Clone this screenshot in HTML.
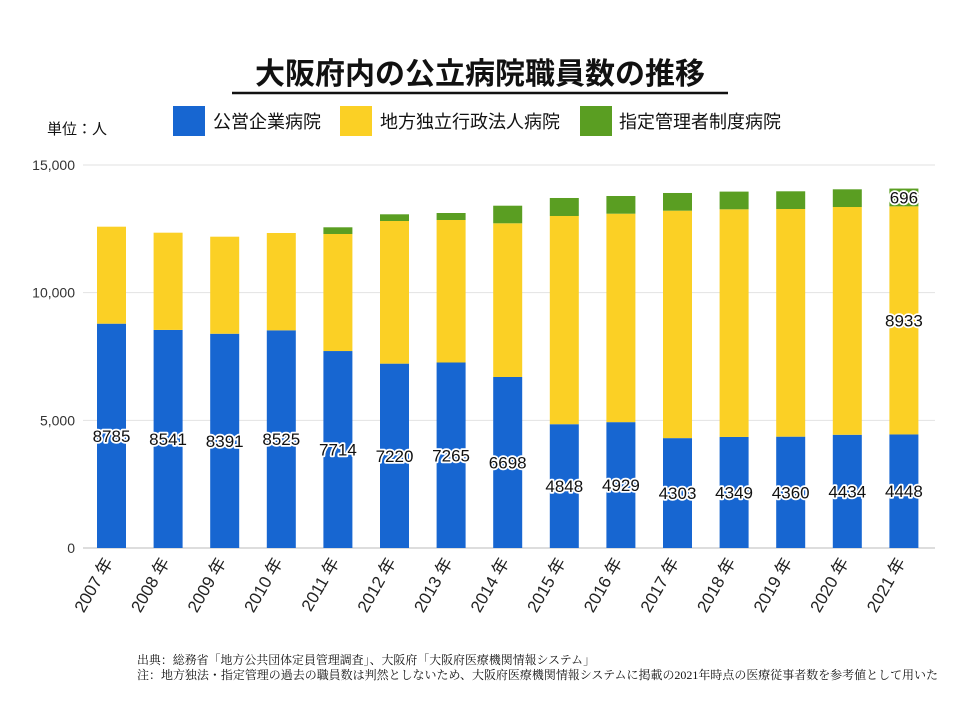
<!DOCTYPE html>
<html><head><meta charset="utf-8"><style>
html,body{margin:0;padding:0;background:#fff;}
svg{display:block;font-family:"Liberation Sans","Noto Sans CJK JP",sans-serif;}
</style></head><body>
<svg width="960" height="720" viewBox="0 0 960 720" id="chart">
<text x="480" y="84" text-anchor="middle" font-size="30" font-weight="bold" fill="#111">大阪府内の公立病院職員数の推移</text>
<line x1="232" y1="93" x2="728" y2="93" stroke="#111" stroke-width="2.5"/>
<text x="47" y="134" font-size="15" fill="#111">単位：人</text>
<g>
<rect x="173" y="106" width="32" height="30" fill="#1766d1"/>
<text x="213" y="128" font-size="18" fill="#111">公営企業病院</text>
<rect x="340" y="106" width="32" height="30" fill="#fbd025"/>
<text x="380" y="128" font-size="18" fill="#111">地方独立行政法人病院</text>
<rect x="580" y="106" width="32" height="30" fill="#5a9e22"/>
<text x="619" y="128" font-size="18" fill="#111">指定管理者制度病院</text>
</g>
<g id="grid"></g><g id="bars"></g><g id="labels"></g>
<text x="137" y="664" font-size="12" fill="#111" textLength="458" lengthAdjust="spacingAndGlyphs" font-family="'Liberation Serif','Noto Serif CJK SC',serif">出典：総務省「地方公共団体定員管理調査」、大阪府「大阪府医療機関情報システム」</text>
<text x="137" y="679" font-size="12" fill="#111" textLength="801" lengthAdjust="spacingAndGlyphs" font-family="'Liberation Serif','Noto Serif CJK SC',serif">注：地方独法・指定管理の過去の職員数は判然としないため、大阪府医療機関情報システムに掲載の2021年時点の医療従事者数を参考値として用いた</text>
</svg>
<script>
const categories=["2007年","2008年","2009年","2010年","2011年","2012年","2013年","2014年","2015年","2016年","2017年","2018年","2019年","2020年","2021年"];
const publicValues=[8785,8541,8391,8525,7714,7220,7265,6698,4848,4929,4303,4349,4360,4434,4448];
const independentValues=[3799,3808,3801,3812,4584,5587,5581,6019,8155,8164,8908,8916,8917,8921,8933];
const designatedValues=[0,0,0,0,262,262,274,689,705,693,693,693,693,693,696];
const yTicks=[0,5000,10000,15000];
const yTickLabels=["0","5,000","10,000","15,000"];
const NS="http://www.w3.org/2000/svg";
const y0=548,yTop=165,yMax=15000,xL=83,xR=935,x0=111.5,step=56.6,bw=29;
function yS(v){return y0-(v/yMax)*(y0-yTop);}
function xS(i){return x0+i*step;}
function mk(tag,attrs,parent){const e=document.createElementNS(NS,tag);for(const k in attrs)e.setAttribute(k,attrs[k]);parent.appendChild(e);return e;}
const grid=document.getElementById('grid'),bars=document.getElementById('bars'),labels=document.getElementById('labels');
yTicks.forEach((t,i)=>{
  const l=mk('line',{x1:xL,x2:xR,y1:yS(t),y2:yS(t),stroke:i==0?'#bbb':'#e2e2e2','stroke-width':1},grid);
  
  
  const tx=mk('text',{x:75,y:yS(t)+5,'text-anchor':'end','font-size':14,fill:'#333'},grid);
  tx.textContent=yTickLabels[i];
  
  
});
function valLabel(txt,x,y){
  const t=mk('text',{x:x,y:y+6,'text-anchor':'middle','font-size':17,fill:'#111',stroke:'#fff','stroke-width':3.5,'paint-order':'stroke','stroke-linejoin':'round'},labels);
  t.textContent=txt;
  
  
}
categories.forEach((c,i)=>{
  const cx=xS(i),x=cx-bw/2;
  const p=publicValues[i],q=independentValues[i],g=designatedValues[i];
  const b1=mk('rect',{x:x,y:yS(p),width:bw,height:y0-yS(p),fill:'#1766d1'},bars);
  
  
  const b2=mk('rect',{x:x,y:yS(p+q),width:bw,height:yS(p)-yS(p+q),fill:'#fbd025'},bars);
  
  
  if(g>0){
    const b3=mk('rect',{x:x,y:yS(p+q+g),width:bw,height:yS(p+q)-yS(p+q+g),fill:'#5a9e22'},bars);
    
    
  }
  valLabel(String(p),cx,(y0+yS(p))/2);
  if(i==categories.length-1){
    valLabel(String(q),cx,(yS(p)+yS(p+q))/2);
    valLabel(String(g),cx,(yS(p+q)+yS(p+q+g))/2);
  }
  const lx=cx+2,ly=562;
  const t=mk('text',{x:lx,y:ly,'text-anchor':'end','font-size':17,fill:'#222',transform:`rotate(-60 ${lx} ${ly})`},grid);
  t.textContent=c.replace('年',' 年');
  
  
});
</script>
</body></html>
